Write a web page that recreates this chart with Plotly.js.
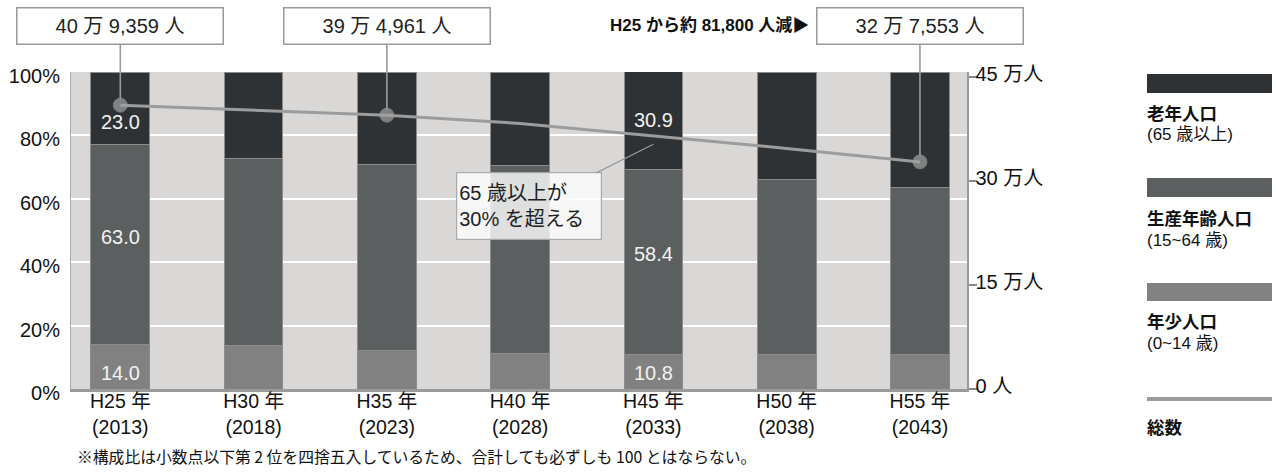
<!DOCTYPE html>
<html>
<head>
<meta charset="utf-8">
<script src="https://cdn.plot.ly/plotly-3.0.1.min.js"></script>
<style>
html,body{margin:0;padding:0;background:#fff;}
#chart{width:1276px;height:472px;}
</style>
</head>
<body>
<div id="chart"></div>
<script>
// ---- data ----
const categories = ['H25', 'H30', 'H35', 'H40', 'H45', 'H50', 'H55'];
const tickLabels = ['H25 年<br>(2013)', 'H30 年<br>(2018)', 'H35 年<br>(2023)', 'H40 年<br>(2028)', 'H45 年<br>(2033)', 'H50 年<br>(2038)', 'H55 年<br>(2043)'];
const young   = [14.0, 13.8, 12.3, 11.1, 10.8, 10.9, 10.9];   // 年少人口 (0~14歳) %
const working = [63.0, 59.0, 58.5, 59.4, 58.4, 55.1, 52.8];   // 生産年齢人口 (15~64歳) %
const elderly = [23.0, 27.2, 29.2, 29.5, 30.9, 34.0, 36.3];   // 老年人口 (65歳以上) %
const totalMan = [40.9359, 40.2, 39.4961, 38.3, 36.5, 34.7, 32.7553]; // 総数 (万人)
const totalLabels = ['40 万 9,359 人', '', '39 万 4,961 人', '', '', '', '32 万 7,553 人'];
const shownValueIdx = [0, 4];
const leftTickVals = [0, 20, 40, 60, 80, 100];
const leftTickText = ['0%', '20%', '40%', '60%', '80%', '100%'];
const rightTickVals = [0, 15, 30, 45];
const rightTickText = ['0 人', '15 万人', '30 万人', '45 万人'];

// ---- styles ----
const C_ELD = '#2e3234', C_WORK = '#5b5f60', C_YOUNG = '#818181', C_LINE = '#9c9c9c';
const SANS = 'Liberation Sans, Arial, Noto Sans CJK JP, sans-serif';
const CJK = 'Noto Sans CJK JP, sans-serif';

const edge = {color: '#8c8c8c', width: 1};
const traces = [
  {type: 'bar', name: '年少人口', x: categories, y: young, width: 0.44, hoverinfo: 'skip', marker: {color: C_YOUNG, line: edge}},
  {type: 'bar', name: '生産年齢人口', x: categories, y: working, width: 0.44, hoverinfo: 'skip', marker: {color: C_WORK, line: edge}},
  {type: 'bar', name: '老年人口', x: categories, y: elderly, width: 0.44, hoverinfo: 'skip', marker: {color: C_ELD, line: edge}},
  {type: 'scatter', mode: 'lines+markers', name: '総数', x: categories, y: totalMan, yaxis: 'y2',
   line: {color: C_LINE, width: 3},
   marker: {color: '#a3a3a3', size: totalLabels.map(t => t ? 14 : 0)}, hoverinfo: 'skip'}
];

const annotations = [];
// value labels inside bars
shownValueIdx.forEach(i => {
  const lbl = (v, y) => annotations.push({x: categories[i], y: y, xref: 'x', yref: 'y', text: v.toFixed(1),
    showarrow: false, font: {family: SANS, size: 20, color: '#f2f2f2'}});
  lbl(young[i], 5.0);
  lbl(working[i], young[i] + working[i] / 2 + 2.5);
  lbl(elderly[i], young[i] + working[i] + elderly[i] * (i === 0 ? 0.3 : 0.5) + 0.3);
});
// total-population boxes with leaders
totalLabels.forEach((t, i) => {
  if (!t) return;
  annotations.push({x: categories[i], y: totalMan[i], xref: 'x', yref: 'y2', text: t,
    showarrow: true, arrowhead: 0, arrowwidth: 1.6, arrowcolor: '#9a9a9a', standoff: 6,
    ax: 0, ayref: 'y2', ay: 52.36,
    width: 203, height: 33, bgcolor: '#ffffff', bordercolor: '#9a9a9a', borderwidth: 1.5, borderpad: 1,
    font: {family: SANS, size: 20, color: '#222'}});
});
annotations.push({xref: 'paper', yref: 'paper', x: (811 - 71) / 896, y: (389 - 25) / 317, xanchor: 'right', yanchor: 'middle',
  text: '<b>H25 から約 81,800 人減▶</b>', showarrow: false, font: {family: SANS, size: 17, color: '#111'}});
// callout
annotations.push({x: 'H45', y: 77.2, xref: 'x', yref: 'y', text: '65 歳以上が<br>30% を超える', align: 'left',
  showarrow: true, arrowhead: 0, arrowwidth: 1.2, arrowcolor: '#999', ax: -124, ay: 62,
  width: 140, height: 62, bgcolor: 'rgba(255,255,255,0.8)', bordercolor: '#aaaaaa', borderwidth: 1.2, borderpad: 2,
  font: {family: SANS, size: 20, color: '#222'}});
// footnote
annotations.push({xref: 'paper', yref: 'paper', x: (75 - 71) / 896, y: (389 - 456) / 317, xanchor: 'left', yanchor: 'middle',
  text: '※構成比は小数点以下第 2 位を四捨五入しているため、合計しても必ずしも 100 とはならない。', showarrow: false,
  font: {family: CJK, size: 15.8, color: '#111'}});

// custom legend (right side)
const px = X => (X - 71) / 896, py = Y => (389 - Y) / 317;
const shapes = [];
const legendItems = [
  {color: C_ELD, top: 74, bot: 93, l1: '老年人口', l2: '(65 歳以上)', y1: 112, y2: 134},
  {color: C_WORK, top: 178, bot: 197, l1: '生産年齢人口', l2: '(15~64 歳)', y1: 217, y2: 240},
  {color: C_YOUNG, top: 283, bot: 301, l1: '年少人口', l2: '(0~14 歳)', y1: 320, y2: 343}
];
legendItems.forEach(it => {
  shapes.push({type: 'rect', xref: 'paper', yref: 'paper', x0: px(1147), x1: px(1272), y0: py(it.bot), y1: py(it.top),
    fillcolor: it.color, line: {width: 0}});
  annotations.push({xref: 'paper', yref: 'paper', x: px(1145), y: py(it.y1), xanchor: 'left', yanchor: 'middle',
    text: '<b>' + it.l1 + '</b>', showarrow: false, font: {family: CJK, size: 17.5, color: '#111'}});
  annotations.push({xref: 'paper', yref: 'paper', x: px(1145), y: py(it.y2), xanchor: 'left', yanchor: 'middle',
    text: it.l2, showarrow: false, font: {family: SANS, size: 17, color: '#111'}});
});
shapes.push({type: 'line', xref: 'paper', yref: 'paper', x0: px(1147), x1: px(1272), y0: py(399), y1: py(399),
  line: {color: C_LINE, width: 4}});
annotations.push({xref: 'paper', yref: 'paper', x: px(1145), y: py(426), xanchor: 'left', yanchor: 'middle',
  text: '<b>総数</b>', showarrow: false, font: {family: CJK, size: 17.5, color: '#111'}});

const layout = {
  width: 1276, height: 472,
  margin: {l: 71, r: 309, t: 72, b: 83, pad: 0},
  paper_bgcolor: '#ffffff', plot_bgcolor: '#d9d8d7',
  barmode: 'stack', showlegend: false,
  xaxis: {type: 'category', range: [-0.37, 6.353], tickvals: categories, ticktext: tickLabels,
    showline: true, linecolor: '#9a9a9a', linewidth: 3, ticks: '', showgrid: false, fixedrange: true,
    ticklabelstandoff: -7,
    tickfont: {family: SANS, size: 19.5, color: '#111'}},
  yaxis: {range: [0, 100], tickvals: leftTickVals, ticktext: leftTickText, showgrid: true, gridcolor: '#ffffff', gridwidth: 2,
    zeroline: false, showline: true, linecolor: '#aaaaaa', linewidth: 1, ticks: '', ticklabelstandoff: 6,
    ticklabelshift: 4,
    tickfont: {family: SANS, size: 20, color: '#111'}},
  yaxis2: {overlaying: 'y', side: 'right', range: [0, 45.72], tickvals: rightTickVals, ticktext: rightTickText,
    showgrid: false, zeroline: false, showline: true, linecolor: '#9a9a9a', linewidth: 1.5,
    ticks: 'outside', ticklen: 8, tickcolor: '#888', tickwidth: 1.5, ticklabelstandoff: -5, ticklabelshift: -3,
    tickfont: {family: SANS, size: 20, color: '#111'}},
  annotations: annotations, shapes: shapes
};

Plotly.newPlot('chart', traces, layout, {displayModeBar: false, staticPlot: true});
</script>
</body>
</html>
